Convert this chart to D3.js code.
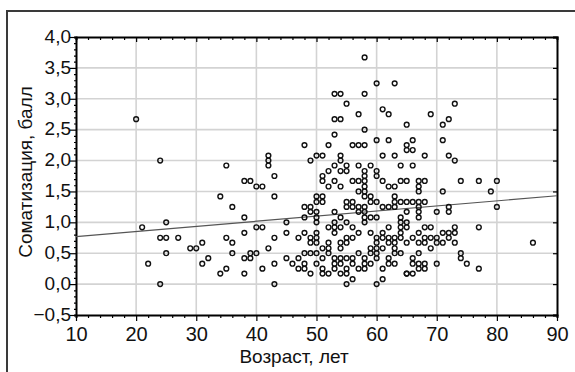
<!DOCTYPE html>
<html>
<head>
<meta charset="utf-8">
<script src="https://cdn.jsdelivr.net/npm/d3@7"></script>
<style>
  body { margin: 0; background: #fff; }
  svg { display: block; font-family: "Liberation Sans", Arial, sans-serif; }
</style>
</head>
<body>
<div id="chart"></div>
<script>
// ages (x) and the scores observed at each age (y)
const ages = [20, 21, 22, 24, 25, 27, 29, 30, 31, 32, 34, 35, 36, 38, 39, 40, 41, 42, 43,
  45, 46, 47, 48, 49, 50, 51, 52, 53, 54, 55, 56, 57, 58, 59, 60, 61, 62, 63, 64, 65,
  66, 67, 68, 69, 70, 71, 72, 73, 74, 75, 77, 79, 80, 86];
const scoresAtAge = [
  [2.67], [0.92], [0.33], [2.0, 0.75, 0.0], [1.0, 0.75, 0.5], [0.75], [0.58], [0.58],
  [0.67, 0.33], [0.42], [1.42, 0.17], [1.92, 0.75, 0.25], [1.25, 0.67, 0.5],
  [1.67, 1.08, 0.83, 0.42, 0.17], [1.67, 0.5, 0.42], [1.58, 0.92, 0.5], [1.58, 0.92, 0.25],
  [2.08, 2.0, 1.92, 0.58], [1.75, 1.42, 0.75, 0.33, 0.0],
  [1.0, 0.83, 0.42], [0.33], [0.75, 0.42, 0.25],
  [2.25, 1.25, 1.08, 0.83, 0.5, 0.33, 0.25],
  [2.0, 1.25, 1.17, 0.75, 0.67, 0.5, 0.17],
  [2.08, 1.42, 1.33, 1.17, 1.08, 1.0, 0.83, 0.75, 0.67, 0.5, 0.33],
  [2.08, 1.75, 1.67, 1.42, 1.33, 0.58, 0.42, 0.25, 0.17],
  [2.25, 1.83, 1.58, 0.92, 0.67, 0.58, 0.5, 0.17],
  [3.08, 2.67, 2.42, 1.92, 1.67, 1.17, 1.0, 0.92, 0.83, 0.42, 0.33, 0.25],
  [3.08, 2.67, 2.08, 2.0, 1.83, 1.58, 1.08, 0.92, 0.67, 0.58, 0.42, 0.33, 0.17],
  [2.92, 1.92, 1.83, 1.33, 1.25, 1.0, 0.75, 0.67, 0.42, 0.25, 0.17, 0.0],
  [2.25, 1.67, 1.33, 1.25, 0.92, 0.75, 0.42, 0.33, 0.08],
  [2.75, 2.25, 1.92, 1.67, 1.5, 1.25, 1.17, 0.83, 0.5, 0.25],
  [3.67, 3.08, 2.5, 2.25, 1.83, 1.75, 1.67, 1.58, 1.5, 1.42, 1.25, 1.17, 1.08, 1.0, 0.42, 0.33, 0.25],
  [1.92, 1.42, 1.33, 1.08, 0.83, 0.58, 0.5, 0.33],
  [3.25, 2.33, 1.83, 1.75, 1.33, 1.08, 0.75, 0.67, 0.58, 0.5, 0.42, 0.0],
  [2.83, 2.08, 1.67, 1.25, 0.83, 0.75, 0.58, 0.25, 0.08],
  [2.75, 2.33, 1.58, 1.25, 0.92, 0.75, 0.67, 0.42, 0.33],
  [3.25, 2.08, 1.58, 1.42, 1.33, 1.25, 0.75, 0.67, 0.58, 0.5, 0.33],
  [1.92, 1.67, 1.33, 1.08, 1.0, 0.92, 0.83, 0.75, 0.5],
  [2.58, 2.25, 2.17, 1.67, 1.33, 1.17, 1.0, 0.92, 0.67, 0.17, 0.17],
  [2.33, 2.17, 1.92, 1.33, 0.75, 0.42, 0.33, 0.17],
  [1.67, 1.58, 1.5, 1.33, 1.25, 1.17, 1.08, 0.83, 0.67, 0.5, 0.33, 0.25],
  [2.08, 1.67, 1.33, 0.92, 0.75, 0.67, 0.33, 0.25],
  [2.75, 0.92, 0.75, 0.58], [1.17, 0.75, 0.67, 0.33], [2.58, 2.33, 1.5, 0.83, 0.67],
  [2.67, 2.08, 1.25, 1.17, 0.83, 0.75], [2.92, 2.0, 0.92, 0.83, 0.67],
  [1.67, 0.5, 0.42], [0.33], [1.67, 0.92, 0.25], [1.5], [1.67, 1.25], [0.67]
];

// regression line end points
const trendAge = [10, 90];
const trendScore = [0.77, 1.43];

const xTicks = [10, 20, 30, 40, 50, 60, 70, 80, 90];
const yTicks = [-0.5, 0, 0.5, 1, 1.5, 2, 2.5, 3, 3.5, 4];

const width = 575, height = 372;
const margin = {top: 37, right: 18, bottom: 57, left: 76};

const points = [];
ages.forEach((a, i) => scoresAtAge[i].forEach(s => points.push({age: a, score: s})));

const svg = d3.select("#chart").append("svg")
  .attr("width", width).attr("height", height);

// outer frame
svg.append("rect")
  .attr("x", 7).attr("y", 11).attr("width", 580).attr("height", 380)
  .attr("fill", "none").attr("stroke", "#3a3a3a").attr("stroke-width", 2);

const x = d3.scaleLinear().domain([10, 90]).range([margin.left, width - margin.right]);
const y = d3.scaleLinear().domain([-0.5, 4]).range([height - margin.bottom, margin.top]);

const fmt = d3.formatLocale({decimal: ",", thousands: " ", grouping: [3], currency: ["", ""], minus: "\u2212"}).format(".1f");

// grid
svg.append("g").selectAll("line").data(xTicks.slice(1, -1)).join("line")
  .attr("x1", d => x(d)).attr("x2", d => x(d))
  .attr("y1", y(4)).attr("y2", y(-0.5))
  .attr("stroke", "#d3d3d3").attr("stroke-width", 1.6);
svg.append("g").selectAll("line").data(yTicks.slice(1, -1)).join("line")
  .attr("y1", d => y(d)).attr("y2", d => y(d))
  .attr("x1", x(10)).attr("x2", x(90))
  .attr("stroke", "#d3d3d3").attr("stroke-width", 1.6);

// axes
const bottom = svg.append("g")
  .attr("transform", `translate(0,${y(-0.5)})`)
  .call(d3.axisBottom(x).tickValues(d3.range(10, 91, 2)).tickSize(3).tickFormat(""));
bottom.call(g => g.selectAll(".tick line").filter(d => d % 10 === 0).attr("y2", 6));
svg.append("g")
  .attr("transform", `translate(0,${y(-0.5)})`)
  .call(d3.axisBottom(x).tickValues(xTicks).tickSize(0).tickPadding(12).tickFormat(d3.format("d")))
  .call(g => g.select(".domain").remove())
  .call(g => g.selectAll("text").attr("font-size", 20).attr("fill", "#111"));

const left = svg.append("g")
  .attr("transform", `translate(${x(10)},0)`)
  .call(d3.axisLeft(y).tickValues(d3.range(-5, 41).map(d => d / 10)).tickSize(2).tickFormat(""));
left.call(g => g.selectAll(".tick line").filter(d => yTicks.some(t => Math.abs(t - d) < 1e-6)).attr("x2", -6));
svg.append("g")
  .attr("transform", `translate(${x(10) - 5},0)`)
  .call(d3.axisLeft(y).tickValues(yTicks).tickSize(0).tickPadding(0).tickFormat(fmt))
  .call(g => g.select(".domain").remove())
  .call(g => g.selectAll("text").attr("font-size", 19).attr("dy", "0.28em").attr("fill", "#111"));

svg.append("g")
  .attr("transform", `translate(0,${y(4)})`)
  .call(d3.axisBottom(x).tickValues(d3.range(10, 91, 2)).tickSize(3).tickFormat(""))
  .call(g => g.selectAll(".tick line").filter(d => d % 10 === 0).attr("y2", 5));
svg.append("g")
  .attr("transform", `translate(${x(90)},0)`)
  .call(d3.axisLeft(y).tickValues(yTicks).tickSize(4).tickFormat(""));

svg.selectAll(".domain").attr("stroke", "#000").attr("stroke-width", 2);
svg.selectAll(".tick line").attr("stroke", "#000").attr("stroke-width", 1.2);

// regression line
svg.append("line")
  .attr("x1", x(trendAge[0])).attr("y1", y(trendScore[0]))
  .attr("x2", x(trendAge[1])).attr("y2", y(trendScore[1]))
  .attr("stroke", "#555").attr("stroke-width", 1.2);

// points
svg.append("g").selectAll("circle").data(points).join("circle")
  .attr("cx", d => x(d.age)).attr("cy", d => y(d.score))
  .attr("r", 2.4)
  .attr("fill", "none").attr("stroke", "#111").attr("stroke-width", 1.4);

// titles
svg.append("text")
  .attr("x", 294).attr("y", 363)
  .attr("text-anchor", "middle").attr("font-size", 19).attr("fill", "#111")
  .text("Возраст, лет");
svg.append("text")
  .attr("transform", `translate(32,${172}) rotate(-90)`)
  .attr("text-anchor", "middle").attr("font-size", 19).attr("fill", "#111")
  .text("Соматизация, балл");
</script>
</body>
</html>
